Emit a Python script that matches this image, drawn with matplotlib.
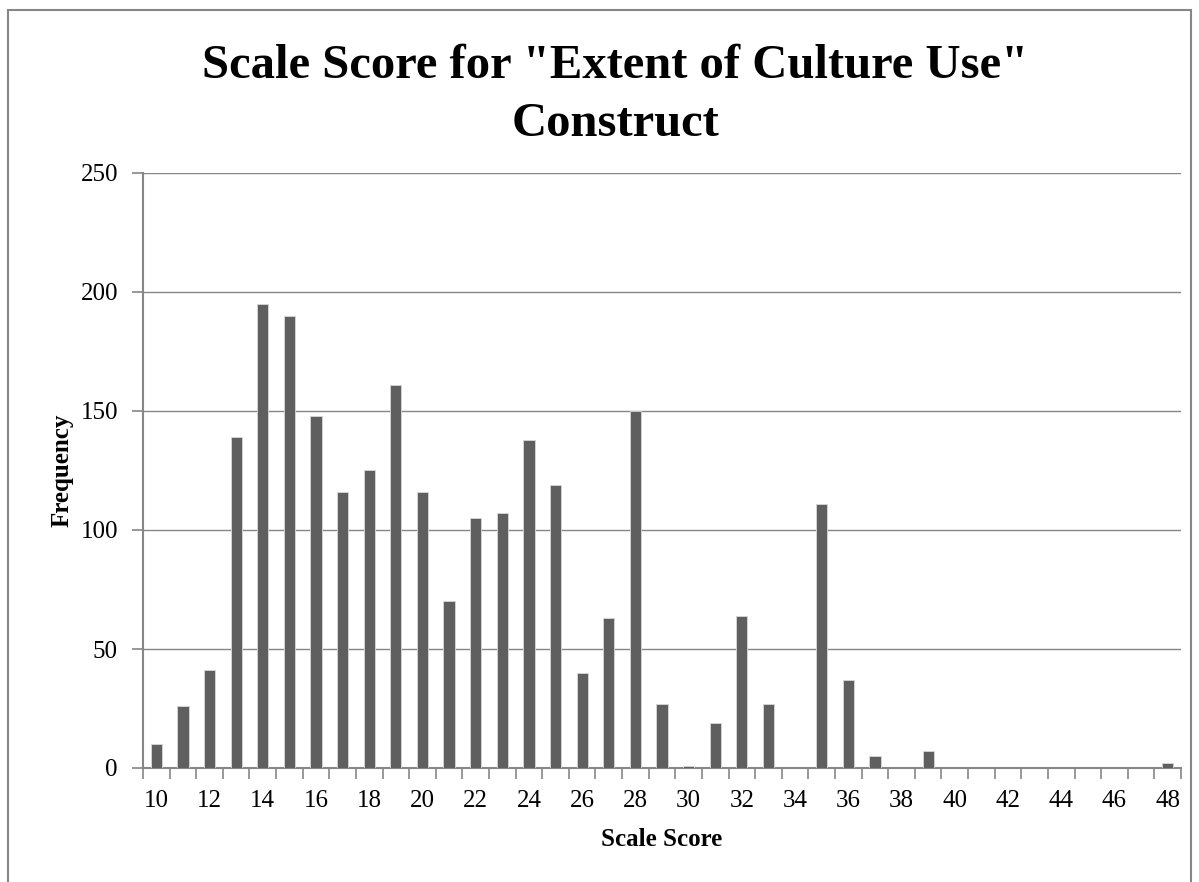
import matplotlib
matplotlib.use('Agg')
import matplotlib.pyplot as plt
from matplotlib.patches import Rectangle

scores = list(range(10, 49))
freq = [10, 26, 41, 139, 195, 190, 148, 116, 125, 161,
        116, 70, 105, 107, 138, 119, 40, 63, 150, 27,
        1, 19, 64, 27, 0, 111, 37, 5, 0, 7,
        0, 0, 0, 0, 0, 0, 0, 0, 2]
yticks = [0, 50, 100, 150, 200, 250]

plt.rcParams['font.family'] = ['Liberation Serif', 'DejaVu Serif']
GREY = '#868686'

W, H = 1199, 882
fig = plt.figure(figsize=(W / 100, H / 100), dpi=100)
fig.patch.set_facecolor('white')
fig.patches.append(Rectangle((8 / W, -0.01), (1191 - 8) / W, 1 - 10 / H + 0.01,
                             transform=fig.transFigure, fill=False,
                             ec=GREY, lw=1.5))

ax = fig.add_axes([143 / W, 1 - 768 / H, (1181 - 143) / W, (768 - 173) / H])
pos = list(range(len(scores)))
ax.bar(pos, freq, width=0.42, color='#5f5f5f', edgecolor='#d9d9d9', linewidth=0.6, zorder=3)

ax.set_xlim(-0.5, len(scores) - 0.5)
ax.set_ylim(0, 250)
ax.set_yticks(yticks)
ax.yaxis.grid(True, color=GREY, lw=1.0, zorder=0)
ax.tick_params(axis='y', length=8, width=1.2, color=GREY, labelsize=18, pad=10)

ax.set_xticks([i - 0.5 for i in range(len(scores) + 1)])
ax.set_xticklabels([])
ax.tick_params(axis='x', which='major', length=8, width=1.2, color=GREY, direction='out')
ax.set_xticks([i for i, s in enumerate(scores) if s % 2 == 0], minor=True)
ax.set_xticklabels([str(s) for s in scores if s % 2 == 0], minor=True)
ax.tick_params(axis='x', which='minor', length=0, labelsize=18, pad=16)

for sp in ['top', 'right']:
    ax.spines[sp].set_visible(False)
for sp in ['left', 'bottom']:
    ax.spines[sp].set_color(GREY)
    ax.spines[sp].set_linewidth(1.5)

fig.text(615 / W, 1 - 78 / H, 'Scale Score for "Extent of Culture Use"',
         ha='center', va='baseline', fontsize=35, fontweight='bold')
fig.text(615 / W, 1 - 136 / H, 'Construct',
         ha='center', va='baseline', fontsize=35, fontweight='bold')
fig.text(62 / W, 1 - 470 / H, 'Frequency', rotation=90, ha='center', va='center',
         fontsize=18, fontweight='bold')
fig.text(662 / W, 1 - 840 / H, 'Scale Score', ha='center', va='center',
         fontsize=18, fontweight='bold')

fig.savefig('out.png', dpi=100, facecolor='white')
